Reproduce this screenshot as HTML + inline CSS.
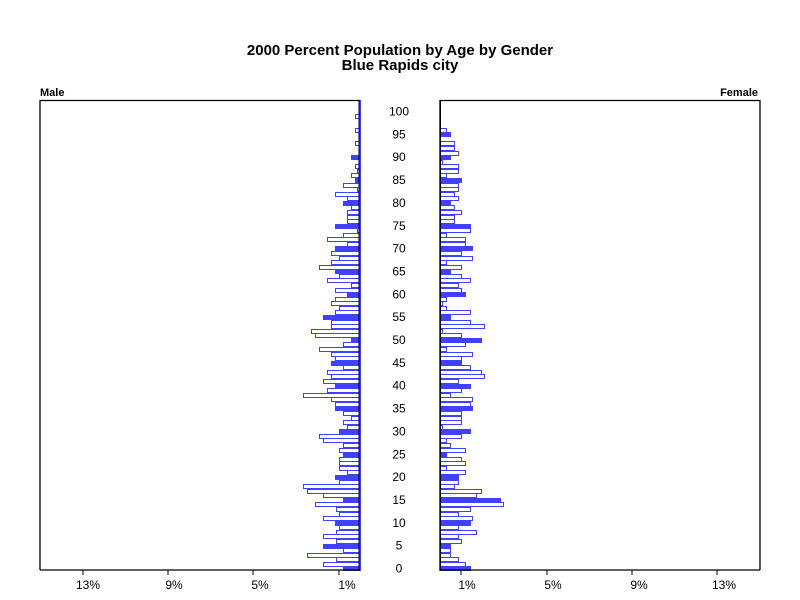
<!DOCTYPE html>
<html><head><meta charset="utf-8"><style>body{margin:0;background:#fff}svg{display:block}</style></head>
<body>
<svg id="s" width="800" height="600" xmlns="http://www.w3.org/2000/svg" font-family="Liberation Sans, sans-serif">
<rect width="800" height="600" fill="#fff"/>
<text x="400" y="55" text-anchor="middle" font-size="15" font-weight="bold">2000 Percent Population by Age by Gender</text>
<text x="400" y="70" text-anchor="middle" font-size="15" font-weight="bold">Blue Rapids city</text>
<text x="40" y="96" font-size="11" font-weight="bold">Male</text>
<text x="758" y="96" font-size="11" font-weight="bold" text-anchor="end">Female</text>
<g id="bars" shape-rendering="crispEdges"></g>
<path d="M40,570 V100.5 H360 M760,570 V100.5 H440 M40,570 H360 M440,570 H760" stroke="#000" fill="none" stroke-width="1.3"/>
<path d="M83,570v5 M168,570v5 M253,570v5 M339,570v5 M461,570v5 M547,570v5 M632,570v5 M717,570v5" stroke="#000"/>
<g font-size="12" text-anchor="middle">
<text x="88" y="589">13%</text><text x="174" y="589">9%</text><text x="260" y="589">5%</text><text x="347" y="589">1%</text>
<text x="467" y="589">1%</text><text x="553" y="589">5%</text><text x="639" y="589">9%</text><text x="724" y="589">13%</text>
</g>
<g id="ages" font-size="12" text-anchor="middle"></g>
</svg>
<script>
var L={0:343,1:323,2:336,3:307,4:343,5:323,6:336,7:323,8:336,9:339,10:335,11:323,12:339,13:336,14:315,15:343,16:323,17:307,18:303,19:339,20:335,21:347,22:339,23:339,24:339,25:343,26:339,27:343,28:323,29:319,30:339,31:347,32:343,33:351,34:343,35:335,36:335,37:331,38:303,39:327,40:335,41:323,42:331,43:327,44:343,45:331,46:335,47:331,48:319,49:343,50:351,51:315,52:311,53:331,54:331,55:323,56:335,57:339,58:331,59:335,60:347,61:335,62:351,63:327,64:339,65:335,66:319,67:331,68:339,69:331,70:335,71:347,72:327,73:343,74:357,75:335,76:347,77:347,78:347,79:351,80:343,81:347,82:335,83:357,84:343,85:355,86:351,87:357,88:355,90:351,93:355,96:355,99:355};
var R={0:471,1:466,2:459,3:451,4:451,5:451,6:462,7:459,8:477,9:459,10:471,11:473,12:459,13:471,14:504,15:501,16:477,17:482,18:455,19:459,20:459,21:466,22:447,23:466,24:462,25:447,26:466,27:451,28:447,29:462,30:471,31:443,32:462,33:462,34:462,35:473,36:471,37:473,38:451,39:462,40:471,41:459,42:485,43:482,44:471,45:462,46:462,47:473,48:447,49:466,50:482,51:462,52:443,53:485,54:471,55:451,56:471,57:447,58:443,59:447,60:466,61:462,62:459,63:471,64:462,65:451,66:462,67:447,68:473,69:462,70:473,71:466,72:466,73:447,74:471,75:471,76:455,77:455,78:462,79:455,80:451,81:459,82:455,83:459,84:459,85:462,86:447,87:459,88:459,89:443,90:451,91:459,92:455,93:455,95:451,96:447};
var h='',C='#4040ff';
function bar(x1,x2,a){var y=Math.round(566.4-4.57*a)+0.5,f=a%5==0;
 h+='<rect x="'+(x1+.5)+'" y="'+y+'" width="'+Math.max(x2-x1-1,1)+'" height="4" fill="'+(f?C:'#fff')+'" stroke="'+C+'" stroke-width="1"/>';}
for(var a in L)bar(L[a],360,+a);
for(var a in R)bar(440,R[a],+a);
h+='<line x1="360" y1="100" x2="360" y2="571" stroke="'+C+'" stroke-width="2"/><line x1="440" y1="100" x2="440" y2="571" stroke="'+C+'" stroke-width="2"/>';
h+='<line x1="359" y1="100" x2="359" y2="571" stroke="#000" stroke-width="0.8"/><line x1="440.5" y1="100" x2="440.5" y2="571" stroke="#000" stroke-width="0.8"/>';
document.getElementById('bars').innerHTML=h;
var t='';for(var a=0;a<=100;a+=5)t+='<text x="399" y="'+(572.5-4.57*a).toFixed(1)+'">'+a+'</text>';
document.getElementById('ages').innerHTML=t;
</script>
</body></html>
